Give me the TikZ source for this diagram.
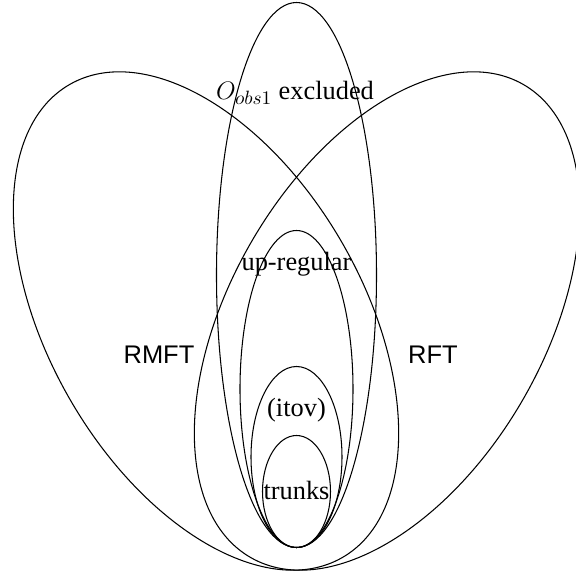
\documentclass[tikz,border=0pt]{standalone}
\usepackage{fontspec}
\setmainfont{Liberation Serif}
\newfontfamily\classfont{Liberation Sans}
\begin{document}
\begin{tikzpicture}
        % Styles
        \tikzstyle{setline}=[black, line width=0.6pt]
        \tikzstyle{setname}=[anchor=base, inner sep=0pt, font=\fontsize{15}{17}\selectfont]
        \tikzstyle{classname}=[anchor=base, inner sep=0pt, font=\fontsize{14.5}{17}\selectfont\classfont]

        \useasboundingbox (-5.93,-0.53) rectangle (5.59,10.95);

        % Sets
        \draw[setline, rotate around={120:(-1.81,4.53)}] (-1.81,4.53) ellipse (5.46 and 3.14);
        \draw[setline, rotate around={60:(1.81,4.53)}] (1.81,4.53) ellipse (5.46 and 3.14);
        \draw[setline] (0,5.45) ellipse (1.6 and 5.45);
        \draw[setline] (0,3.17) ellipse (1.13 and 3.17);
        \draw[setline] (0,1.81) ellipse (0.91 and 1.81);
        \draw[setline] (0,1.12) ellipse (0.68 and 1.12);

        % Labels
        \node[setname]   (obs)   at (-0.03,8.96) {$O_{obs1}$ excluded};
        \node[setname]   (upreg) at (0,5.55)     {up-regular};
        \node[classname] (rmft)  at (-2.75,3.68) {RMFT};
        \node[classname] (rft)   at (2.73,3.68)  {RFT};
        \node[setname]   (itov)  at (0,2.62)     {(itov)};
        \node[setname]   (trunk) at (0,0.96)     {trunks};
    \end{tikzpicture}
\end{document}
